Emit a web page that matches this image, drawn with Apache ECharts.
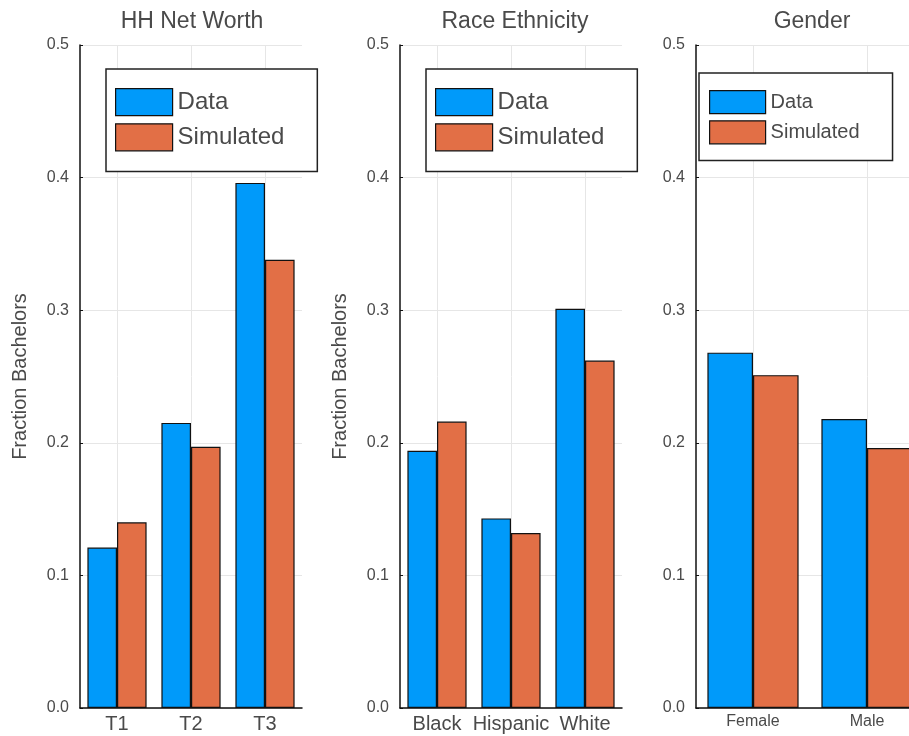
<!DOCTYPE html>
<html>
<head>
<meta charset="utf-8">
<script src="https://cdn.jsdelivr.net/npm/echarts@6/dist/echarts.min.js"></script>
<style>
html,body{margin:0;padding:0;background:#fff;overflow:hidden;}
#chart{width:940px;height:736px;}
</style>
</head>
<body>
<div id="chart"></div>
<script>
// ---- data ----
const panelTitles = ['HH Net Worth', 'Race Ethnicity', 'Gender'];
const seriesNames = ['Data', 'Simulated'];
const netWorthCats = ['T1', 'T2', 'T3'];
const netWorthData = [0.121, 0.215, 0.396];
const netWorthSim = [0.140, 0.197, 0.338];
const raceCats = ['Black', 'Hispanic', 'White'];
const raceData = [0.194, 0.143, 0.301];
const raceSim = [0.216, 0.132, 0.262];
const genderCats = ['Female', 'Male'];
const genderData = [0.268, 0.218];
const genderSim = [0.251, 0.196];
const yMin = 0, yMax = 0.5, yStep = 0.1;
const yName = 'Fraction Bachelors';

const COLORS = ['#009AFA', '#E26F46'];
const TXT = '#4a4a4a';
const FONT = '"Liberation Sans", Arial, Helvetica, sans-serif';

const panels = [
  {cats: netWorthCats, vals: [netWorthData, netWorthSim], grid: {left: 80, top: 45, width: 222, height: 663}, title: 187, yname: true, xfont: 20,
   legend: {left: 106, top: 69, padding: [19, 33, 20, 9], itemWidth: 57, itemHeight: 27, itemGap: 7, font: 24}},
  {cats: raceCats, vals: [raceData, raceSim], grid: {left: 400, top: 45, width: 222, height: 663}, title: 510, yname: true, xfont: 20,
   legend: {left: 426, top: 69, padding: [19, 33, 20, 9], itemWidth: 57, itemHeight: 27, itemGap: 7, font: 24}},
  {cats: genderCats, vals: [genderData, genderSim], grid: {left: 696, top: 45, width: 228, height: 663}, title: 807, yname: false, xfont: 16,
   legend: {left: 699, top: 73, padding: [17, 33, 16, 10], itemWidth: 56, itemHeight: 23, itemGap: 6, font: 20}}
];

const option = {
  backgroundColor: '#fff',
  animation: false,
  textStyle: {fontFamily: FONT},
  title: [], grid: [], xAxis: [], yAxis: [], series: [], legend: []
};

panels.forEach((p, i) => {
  option.title.push({
    text: panelTitles[i], left: p.title, top: 5, textAlign: 'center',
    textStyle: {fontFamily: FONT, fontSize: 23, fontWeight: 'normal', color: TXT}
  });
  option.grid.push(Object.assign({containLabel: false}, p.grid));
  option.xAxis.push({
    type: 'category', gridIndex: i, data: p.cats,
    axisLine: {show: true, lineStyle: {color: '#111', width: 1.5}},
    axisTick: {show: false},
    axisLabel: {color: TXT, fontSize: p.xfont, margin: 6, fontFamily: FONT, interval: 0, hideOverlap: false},
    splitLine: {show: true, alignWithLabel: true, lineStyle: {color: '#e6e6e6', width: 1}}
  });
  option.yAxis.push({
    type: 'value', gridIndex: i, min: yMin, max: yMax, interval: yStep,
    name: p.yname ? yName : '', nameLocation: 'middle', nameGap: 50,
    nameTextStyle: {color: TXT, fontSize: 20, fontFamily: FONT},
    axisLine: {show: true, lineStyle: {color: '#111', width: 1.5}},
    axisTick: {show: true, inside: true, length: 3, lineStyle: {color: '#111'}},
    axisLabel: {color: TXT, fontSize: 16, margin: 11, fontFamily: FONT, formatter: v => v.toFixed(1)},
    splitLine: {show: true, lineStyle: {color: '#e6e6e6', width: 1}}
  });
  seriesNames.forEach((nm, k) => {
    option.series.push({
      type: 'bar', name: nm, xAxisIndex: i, yAxisIndex: i, data: p.vals[k],
      barGap: '0%', barCategoryGap: '20%',
      itemStyle: {color: COLORS[k], borderColor: '#111', borderWidth: 1.2}
    });
  });
  const L = p.legend;
  option.legend.push({
    orient: 'vertical', left: L.left, top: L.top, padding: L.padding,
    itemWidth: L.itemWidth, itemHeight: L.itemHeight, itemGap: L.itemGap,
    icon: 'rect',
    backgroundColor: '#fff', borderColor: '#222', borderWidth: 1.5,
    data: seriesNames.map((nm, k) => ({name: nm, icon: 'rect', itemStyle: {color: COLORS[k], borderColor: '#111', borderWidth: 1.2}})),
    textStyle: {color: TXT, fontSize: L.font, fontFamily: FONT},
    selectedMode: false, z: 10
  });
});

const chart = echarts.init(document.getElementById('chart'), null, {renderer: 'canvas'});
chart.setOption(option);
</script>
</body>
</html>
